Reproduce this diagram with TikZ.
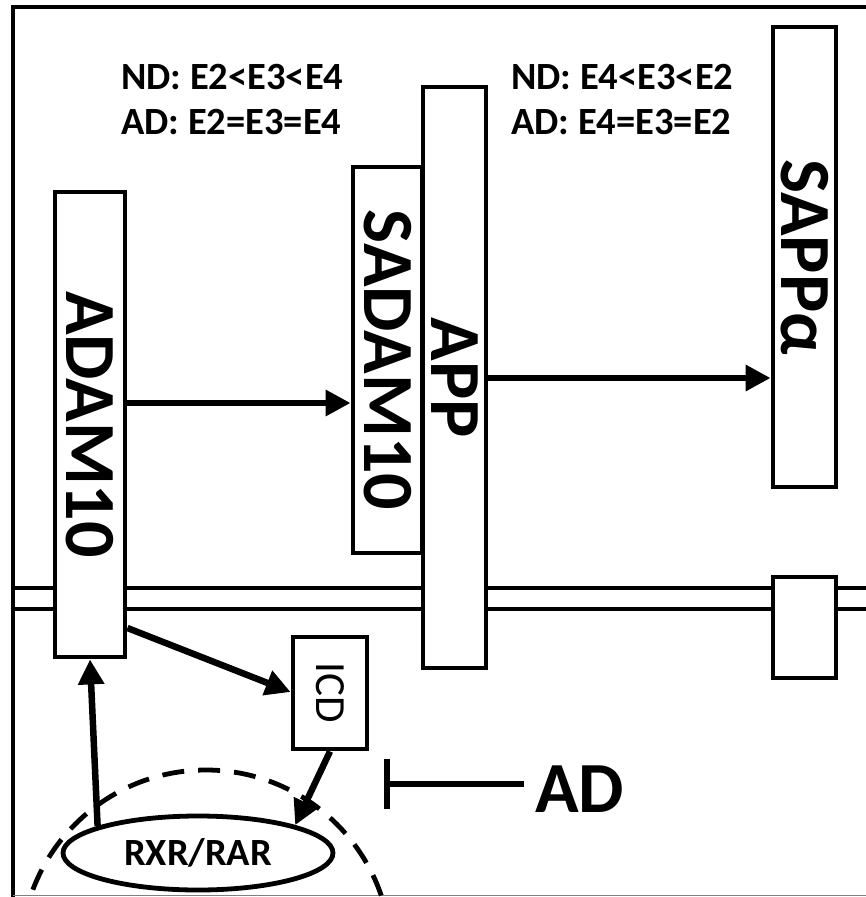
\documentclass[tikz,border=0pt]{standalone}
\usepackage{fontspec}
\setmainfont{Carlito}
\usetikzlibrary{arrows.meta,shapes.geometric}
\begin{document}
\begin{tikzpicture}[x=1pt,y=-1pt,
  line join=miter,
  boxline/.style={draw, line width=4.8pt, fill=white, inner sep=0pt},
  vbox/.style={boxline, rotate=-90, font=\bfseries\fontsize{72}{72}\selectfont},
  small/.style={font=\bfseries\fontsize{38.5}{40}\selectfont, inner sep=0pt, anchor=base west},
  arr/.style={line width=6.5pt, -{Triangle[length=25pt,width=25pt]}},
  inh/.style={line width=5.5pt, -{Bar[width=50pt]}},
  memb/.style={line width=4.8pt},
  dashring/.style={line width=4.8pt, dash pattern=on 22pt off 14pt}
]
\fill[white] (0,0) rectangle (866,897);
\useasboundingbox (0,0) rectangle (866,897);

% frame
\draw[line width=4.8pt] (866,7) -- (13,7) -- (13,897);
\draw[line width=1.5pt, gray] (13,895.5) -- (866,895.5);

% membrane
\draw[memb] (13,588) -- (866,588);
\draw[memb] (13,609) -- (866,609);

% dashed ring
\draw[dashring] (206,955) circle (185);

% boxes
\node[vbox, minimum width=465pt, minimum height=70pt] (adam) at (90,424.5) {ADAM10};
\node[vbox, minimum width=386pt, minimum height=69pt] (sadam) at (387.5,360) {SADAM10};
\node[vbox, minimum width=581pt, minimum height=63pt] (app) at (454.5,377.5) {APP};
\node[vbox, minimum width=460pt, minimum height=63pt] (sappa) at (804.5,257) {SAPPα};
\node[boxline, minimum width=63pt, minimum height=101pt] (tm) at (804.5,627.5) {};
\node[boxline, rotate=-90, font=\fontsize{43}{43}\selectfont, minimum width=112pt, minimum height=74pt] (icd) at (330,693) {ICD};
\node[draw, ellipse, line width=4.8pt, fill=white, inner sep=0pt, minimum width=270pt, minimum height=74pt, font=\bfseries\fontsize{38.5}{40}\selectfont] (rxr) at (198,853) {RXR/RAR};

% texts
\node[small] (t1) at (121,89) {ND: E2<E3<E4};
\node[small] (t2) at (121,134) {AD: E2=E3=E4};
\node[small] (t3) at (511,89) {ND: E4<E3<E2};
\node[small] (t4) at (511,134) {AD: E4=E3=E2};

% arrows
\draw[arr] (adam.north |- 0,403) -- (sadam.south |- 0,403);
\draw[arr] (app.north |- 0,378) -- (sappa.south |- 0,378);
\draw[arr] (adam.north |- 0,628) -- (icd.south |- 0,692);
\draw[arr] (rxr.165) -- (adam.east);
\draw[arr] (icd.east) -- (rxr.16);

% inhibition
\node[font=\bfseries\fontsize{72}{72}\selectfont, inner sep=0pt, anchor=base west] (ad) at (535,812) {AD};
\coordinate (adl) at (524,784);
\coordinate (tbar) at (384,784);
\draw[inh] (adl) -- (tbar);
\end{tikzpicture}
\end{document}
